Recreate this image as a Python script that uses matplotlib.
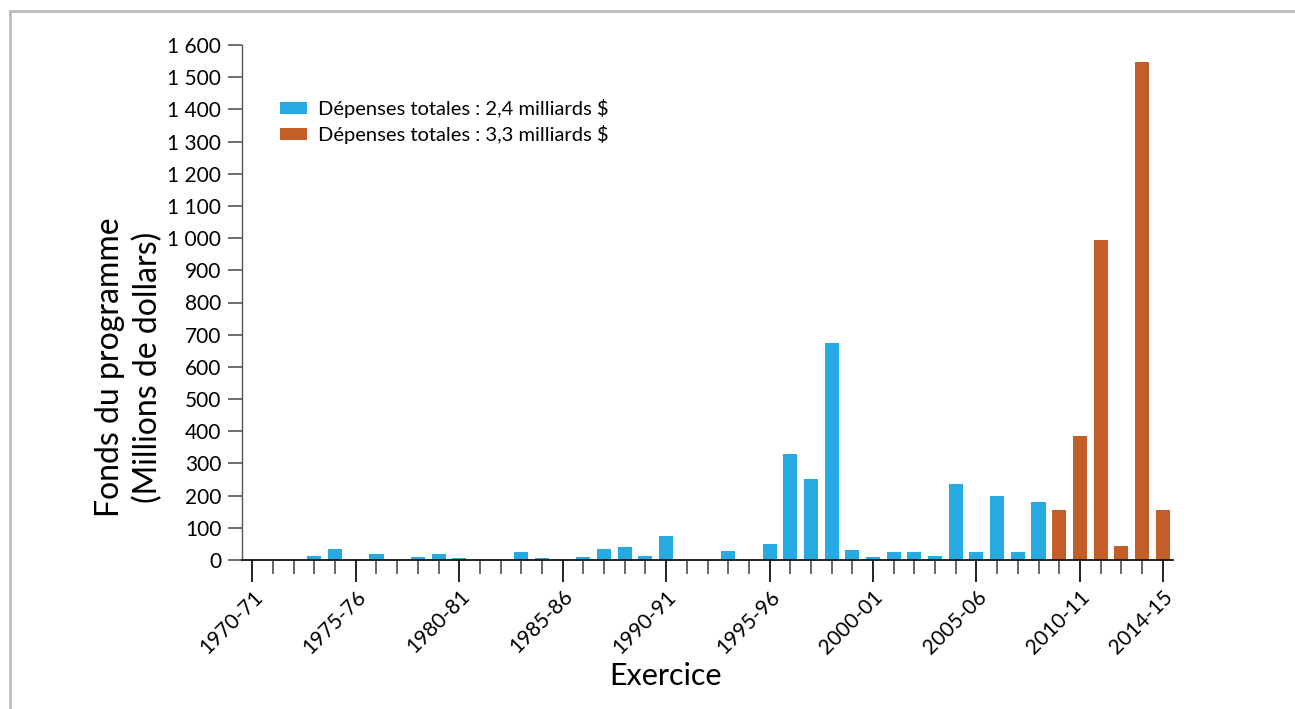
import matplotlib
matplotlib.use("Agg")
import matplotlib.pyplot as plt
from matplotlib.lines import Line2D
from matplotlib.patches import Patch

years = [f"{y}-{str(y+1)[-2:]}" for y in range(1970, 2015)]
blue_values = [0, 0, 0, 13, 34, 0, 19, 0, 9, 19, 6, 0, 0, 25, 6, 0, 9, 34, 40, 12,
               75, 0, 0, 28, 0, 50, 329, 252, 674, 31, 9, 25, 25, 12, 236, 25, 199,
               25, 181, 37, 0, 0, 0, 0, 0]
orange_values = [0]*39 + [156, 385, 994, 44, 1548, 156]
labeled_years = ["1970-71", "1975-76", "1980-81", "1985-86", "1990-91",
                 "1995-96", "2000-01", "2005-06", "2010-11", "2014-15"]
yticks = list(range(0, 1700, 100))
ytick_labels = [f"{v:,}".replace(",", " ") for v in yticks]
legend_labels = ["Dépenses totales : 2,4 milliards $", "Dépenses totales : 3,3 milliards $"]

BLUE = "#27AAE1"
ORANGE = "#C45E29"

plt.rcParams['font.family'] = ['Lato', 'DejaVu Sans']

fig = plt.figure(figsize=(12.95, 7.09), dpi=100)
ax = fig.add_axes([242/1295, 149/709, (1173-242)/1295, (560-45)/709])

x = list(range(len(years)))
ax.bar(x, blue_values, width=0.68, color=BLUE, zorder=2)
ax.bar(x, orange_values, width=0.68, color=ORANGE, zorder=2)

ax.set_xlim(-0.5, len(years) - 0.5)
ax.set_ylim(0, 1600)

for s in ["top", "right"]:
    ax.spines[s].set_visible(False)
ax.spines["left"].set_color("#555555")
ax.spines["bottom"].set_color("#111111")
ax.spines["left"].set_linewidth(1.0)
ax.spines["bottom"].set_linewidth(1.3)

ax.set_yticks(yticks)
ax.set_yticklabels(ytick_labels, fontsize=15)
ax.tick_params(axis="y", length=10, width=1.2, color="#555555", pad=5)

major_idx = [years.index(l) for l in labeled_years]
minor_idx = [i for i in x if i not in major_idx]
ax.set_xticks(major_idx)
ax.set_xticklabels(labeled_years, rotation=45, ha="right", va="top",
                   rotation_mode="anchor", fontsize=15)
ax.set_xticks(minor_idx, minor=True)
ax.tick_params(axis="x", which="major", length=16, width=1.4, color="#222222", pad=3)
ax.tick_params(axis="x", which="minor", length=10, width=1.4, color="#666666")

fig.text(665/1295, 1 - 676/709, "Exercice", ha="center", va="center", fontsize=22)
fig.text(129/1295, 1 - 367/709, "Fonds du programme\n(Millions de dollars)",
         rotation=90, ha="center", va="center", fontsize=23, linespacing=1.3)

handles = [Patch(facecolor=BLUE), Patch(facecolor=ORANGE)]
ax.legend(handles, legend_labels, loc="upper left", bbox_to_anchor=(30/931, 1 - 46/515),
          frameon=False, fontsize=14.5, handlelength=1.35, handleheight=0.5,
          handletextpad=0.55, labelspacing=0.35, borderaxespad=0)

# frame of the figure panel
fig.add_artist(Line2D([10/1295, 10/1295], [0, 1 - 11/709], color="#BBBBBB", lw=2,
                      transform=fig.transFigure))
fig.add_artist(Line2D([10/1295, 1], [1 - 11/709, 1 - 11/709], color="#BBBBBB", lw=2,
                      transform=fig.transFigure))

fig.savefig("out.png", dpi=100)
